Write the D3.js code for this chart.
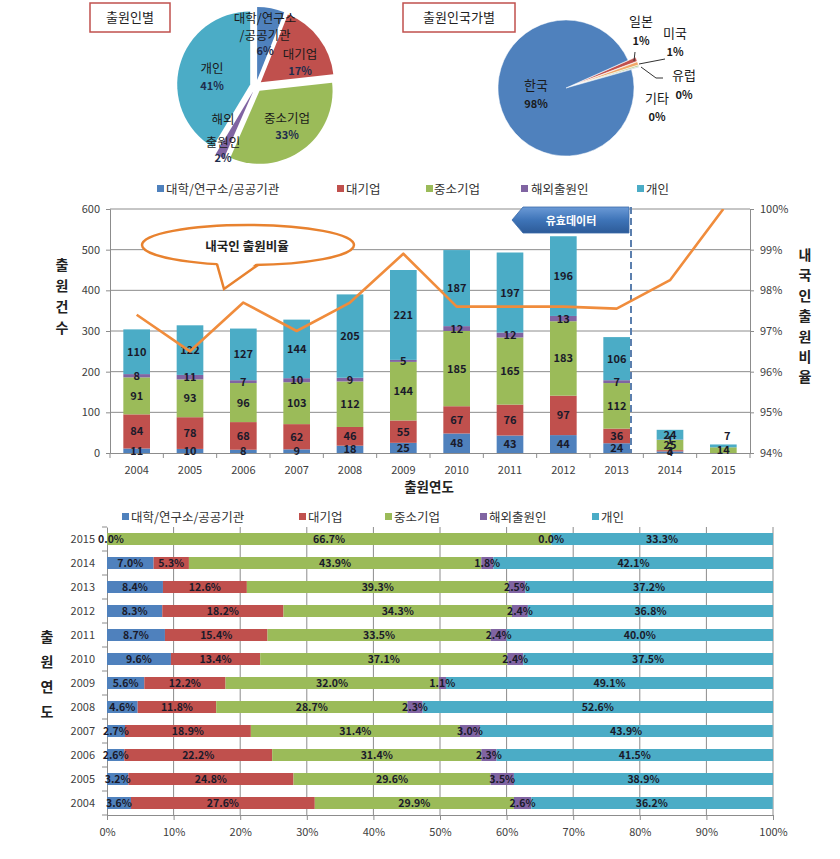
<!DOCTYPE html>
<html><head><meta charset="utf-8">
<script src="https://cdn.jsdelivr.net/npm/d3@7"></script>
<style>
body{margin:0;background:#fff}
svg{display:block}
text{font-family:"Noto Sans CJK KR","Noto Sans",sans-serif}
</style>
</head><body>
<svg id="c" width="840" height="859"></svg>
<script>
// ---------- DATA ----------
const years = [2004,2005,2006,2007,2008,2009,2010,2011,2012,2013,2014,2015];
const seriesNames = ["대학/연구소/공공기관","대기업","중소기업","해외출원인","개인"];
const seriesKeys = ["univ","large","sme","foreign","indiv"];
const colors = ["#4f81bd","#c0504d","#9bbb59","#8064a2","#4bacc6"];

// counts (middle chart)
const univ    = [11,10,8,9,18,25,48,43,44,24,4,0];
const large   = [84,78,68,62,46,55,67,76,97,36,3,0];
const sme     = [91,93,96,103,112,144,185,165,183,112,25,14];
const foreign = [8,11,7,10,9,5,12,12,13,7,1,0];
const indiv   = [110,122,127,144,205,221,187,197,196,106,24,7];
// domestic applicant ratio (%)
const domesticRatio = [97.4,96.5,97.7,97.0,97.7,98.9,97.6,97.6,97.6,97.55,98.25,100];

// shares (bottom chart, %)
const pctUniv    = [3.6,3.2,2.6,2.7,4.6,5.6,9.6,8.7,8.3,8.4,7.0,0.0];
const pctLarge   = [27.6,24.8,22.2,18.9,11.8,12.2,13.4,15.4,18.2,12.6,5.3,0.0];
const pctSme     = [29.9,29.6,31.4,31.4,28.7,32.0,37.1,33.5,34.3,39.3,43.9,66.7];
const pctForeign = [2.6,3.5,2.3,3.0,2.3,1.1,2.4,2.4,2.4,2.5,1.8,0.0];
const pctIndiv   = [36.2,38.9,41.5,43.9,52.6,49.1,37.5,40.0,36.8,37.2,42.1,33.3];

// pie 1 (by applicant)
const pie1Names  = ["대학/연구소/공공기관","대기업","중소기업","해외출원인","개인"];
const pie1Values = [6,17,33,2,41];
// pie 2 (by applicant country)
const pie2Names  = ["일본","미국","유럽","기타","한국"];
const pie2Values = [1.0,0.8,0.3,0.2,97.7];
const pie2Labels = ["1%","1%","0%","0%","98%"];
const pie2Colors = ["#c0504d","#f0a868","#9bbb59","#a9b7cf","#4f81bd"];

const countTicks = [0,100,200,300,400,500,600];
const ratioTicks = [94,95,96,97,98,99,100];
const pctTicks   = [0,10,20,30,40,50,60,70,80,90,100];

// ---------- SETUP ----------
const svg = d3.select("#c");
const tickColor = "#404040", gridColor = "#8c8c8c", labColor = "#1a1a2a";

// ---------- PIE 1 ----------
function titleBox(x,y,w,h,t){
  svg.append("rect").attr("x",x).attr("y",y).attr("width",w).attr("height",h)
    .attr("fill","#fff").attr("stroke","#c0504d").attr("stroke-width",1.5);
  svg.append("text").attr("x",x+w/2).attr("y",y+h/2).attr("dy","0.36em")
    .attr("text-anchor","middle").attr("font-size",13).attr("fill","#222").text(t);
}
titleBox(90,3,80,29,"출원인별");
titleBox(403,3,112,29,"출원인국가별");

{
  const cx=256, cy=86, r=73, off=6;
  const arcs = d3.pie().sort(null).value(d=>d)(pie1Values);
  const arc = d3.arc().innerRadius(0).outerRadius(r);
  const g = svg.append("g").attr("transform",`translate(${cx},${cy})`);
  arcs.forEach((a,i)=>{
    const m=(a.startAngle+a.endAngle)/2;
    g.append("path").attr("d",arc(a)).attr("fill",colors[i])
      .attr("transform",`translate(${off*Math.sin(m)},${-off*Math.cos(m)})`);
  });
  const lab = [
    {x:265,y:[18,35],p:51, n:["대학/연구소","/공공기관"]},
    {x:300,y:[54],p:71, n:["대기업"]},
    {x:287,y:[118],p:135, n:["중소기업"]},
    {x:223,y:[119,142],p:158, n:["해외","출원인"]},
    {x:212,y:[68],p:86, n:["개인"]}
  ];
  lab.forEach((L,i)=>{
    L.n.forEach((s,j)=>svg.append("text").attr("x",L.x).attr("y",L.y[j]).attr("dy","0.36em")
      .attr("text-anchor","middle").attr("font-size",12.5).attr("fill","#1a1a1a").text(s));
    svg.append("text").attr("x",L.x).attr("y",L.p).attr("dy","0.36em")
      .attr("text-anchor","middle").attr("font-size",11).attr("font-weight","bold")
      .attr("fill","#1f2d4d").text(pie1Values[i]+"%");
  });
}

// ---------- PIE 2 ----------
{
  const cx=566, cy=88, r=68, off=8;
  const arcs = d3.pie().sort(null).value(d=>d)
    .startAngle(66*Math.PI/180).endAngle(66*Math.PI/180+2*Math.PI)(pie2Values);
  const arc = d3.arc().innerRadius(0).outerRadius(r);
  const g = svg.append("g").attr("transform",`translate(${cx},${cy})`);
  arcs.forEach((a,i)=>{
    const m=(a.startAngle+a.endAngle)/2;
    const o = i<4 ? off : 0;
    g.append("path").attr("d",arc(a)).attr("fill",pie2Colors[i])
      .attr("stroke","#fff").attr("stroke-width",0.5)
      .attr("transform",`translate(${o*Math.sin(m)},${-o*Math.cos(m)})`);
  });
  const lines = [
    [[634,61],[635,52]],
    [[639,64],[665,59]],
    [[641,67],[656,78],[663,78]]
  ];
  lines.forEach(p=>svg.append("path").attr("d",d3.line()(p)).attr("fill","none")
    .attr("stroke","#333").attr("stroke-width",1));
  const lab = [
    {x:641,y:21,p:41},{x:675,y:33,p:52},{x:684,y:75,p:95},{x:657,y:98,p:117},{x:536,y:85,p:104}
  ];
  lab.forEach((L,i)=>{
    svg.append("text").attr("x",L.x).attr("y",L.y).attr("dy","0.36em")
      .attr("text-anchor","middle").attr("font-size",13).attr("fill","#1a1a1a").text(pie2Names[i]);
    svg.append("text").attr("x",L.x).attr("y",L.p).attr("dy","0.36em")
      .attr("text-anchor","middle").attr("font-size",11).attr("font-weight","bold")
      .attr("fill","#1a1a1a").text(pie2Labels[i]);
  });
}

// ---------- MIDDLE CHART ----------
const X0=110, X1=750, YT=209, YB=453;
const x = d3.scaleBand().domain(years).range([X0,X1]).paddingInner(0.5).paddingOuter(0.25);
const y = d3.scaleLinear().domain([0,600]).range([YB,YT]);
const yR = d3.scaleLinear().domain([94,100]).range([YB,YT]);

function legend(yPos, sq, tx){
  seriesNames.forEach((n,i)=>{
    svg.append("rect").attr("x",sq[i]).attr("y",yPos-4).attr("width",7).attr("height",7).attr("fill",colors[i]);
    svg.append("text").attr("x",tx[i]).attr("y",yPos).attr("dy","0.36em").attr("font-size",12.5)
      .attr("fill","#333").text(n);
  });
}
legend(189,[157,337,426,521,637],[166,346,434,531,646]);

svg.append("g").selectAll("line").data(countTicks.slice(1)).join("line")
  .attr("x1",X0).attr("x2",X1).attr("y1",d=>y(d)).attr("y2",d=>y(d))
  .attr("stroke",gridColor).attr("stroke-width",1);

const la = svg.append("g").attr("transform",`translate(${X0},0)`)
  .call(d3.axisLeft(y).tickValues(countTicks).tickSize(4).tickPadding(6));
la.select(".domain").attr("stroke",gridColor);
la.selectAll(".tick line").attr("stroke",gridColor);
la.selectAll("text").attr("font-size",11).attr("fill",tickColor).attr("font-family","Noto Sans,sans-serif");
const ra = svg.append("g").attr("transform",`translate(${X1},0)`)
  .call(d3.axisRight(yR).tickValues(ratioTicks).tickFormat(d=>d+"%").tickSize(4).tickPadding(6));
ra.select(".domain").attr("stroke",gridColor);
ra.selectAll(".tick line").attr("stroke",gridColor);
ra.selectAll("text").attr("font-size",11).attr("fill",tickColor).attr("font-family","Noto Sans,sans-serif");

const ba = svg.append("g").attr("transform",`translate(0,${YB})`)
  .call(d3.axisBottom(x).tickSize(0).tickPadding(13));
ba.select(".domain").attr("stroke",gridColor);
ba.selectAll("text").attr("font-size",11).attr("fill",tickColor).attr("font-family","Noto Sans,sans-serif");
const bounds = years.map(d=>x(d)-x.step()*x.paddingInner()/2).concat([X1]);
svg.append("g").selectAll("line").data(bounds).join("line")
  .attr("x1",d=>d).attr("x2",d=>d).attr("y1",YB).attr("y2",YB+5).attr("stroke",gridColor);

// speech bubble
{
  const ecx=248, ecy=245, rx=106, ry=20;
  const ey = xx => ecy + ry*Math.sqrt(1-Math.pow((xx-ecx)/rx,2));
  svg.append("ellipse").attr("cx",ecx).attr("cy",ecy).attr("rx",rx).attr("ry",ry)
    .attr("fill","#fff").attr("stroke","#e8822f").attr("stroke-width",2.5);
  const a=217, b=258, tip=[224,289];
  svg.append("path").attr("d",d3.line()([[a,ey(a)-3],tip,[b,ey(b)-3]])+"Z").attr("fill","#fff");
  svg.append("path").attr("d",d3.line()([[a,ey(a)],tip,[b,ey(b)]])).attr("fill","none")
    .attr("stroke","#e8822f").attr("stroke-width",2.5).attr("stroke-linejoin","miter");
  svg.append("text").attr("x",247).attr("y",246).attr("dy","0.36em").attr("text-anchor","middle")
    .attr("font-size",12.5).attr("font-weight","bold").attr("fill","#222").text("내국인 출원비율");
}

// stacked bars
const rows = years.map((yr,i)=>({year:yr,univ:univ[i],large:large[i],sme:sme[i],foreign:foreign[i],indiv:indiv[i]}));
const stacked = d3.stack().keys(seriesKeys)(rows);
const bg = svg.append("g");
stacked.forEach((s,si)=>{
  bg.selectAll(null).data(s).join("rect")
    .attr("x",d=>x(d.data.year)).attr("width",x.bandwidth())
    .attr("y",d=>y(d[1])).attr("height",d=>y(d[0])-y(d[1]))
    .attr("fill",colors[si]);
});
stacked.forEach((s,si)=>{
  bg.selectAll(null).data(s.filter(d=>d[1]-d[0]>0)).join("text")
    .attr("x",d=>x(d.data.year)+x.bandwidth()/2 + (d.data.year===2015 && si===4 ? 4 : 0))
    .attr("y",d=>y((d[0]+d[1])/2) - (d.data.year===2015 && si===4 ? 10 : 0)).attr("dy","0.36em")
    .attr("text-anchor","middle").attr("font-size",11).attr("font-weight","bold")
    .attr("fill",labColor).text(d=>d[1]-d[0]);
});

// dashed divider & callout
svg.append("line").attr("x1",631).attr("x2",631).attr("y1",YT-2).attr("y2",YB)
  .attr("stroke","#5b7fae").attr("stroke-width",2).attr("stroke-dasharray","7,4");
{
  const defs = svg.append("defs");
  const gr = defs.append("linearGradient").attr("id","cg").attr("x1",0).attr("y1",0).attr("x2",0).attr("y2",1);
  gr.append("stop").attr("offset","0%").attr("stop-color","#6b9ad6");
  gr.append("stop").attr("offset","50%").attr("stop-color","#3e74b8");
  gr.append("stop").attr("offset","100%").attr("stop-color","#2d5b98");
  svg.append("path").attr("d",d3.line()([[512,220],[523,207],[629,207],[629,233],[523,233]])+"Z")
    .attr("fill","url(#cg)").attr("stroke","#3a6aa8").attr("stroke-width",0.8);
  svg.append("text").attr("x",571).attr("y",221).attr("dy","0.36em").attr("text-anchor","middle")
    .attr("font-size",11).attr("font-weight","bold").attr("fill","#fff").text("유효데이터");
}

// ratio line
svg.append("defs").append("clipPath").attr("id","pc").append("rect")
  .attr("x",X0).attr("y",YT).attr("width",X1-X0).attr("height",YB-YT);
svg.append("path").attr("clip-path","url(#pc)")
  .attr("d",d3.line().x((d,i)=>x(years[i])+x.bandwidth()/2).y(d=>yR(d))(domesticRatio))
  .attr("fill","none").attr("stroke","#f08c3c").attr("stroke-width",2.6).attr("stroke-linejoin","round");

// axis titles
"출원건수".split("").forEach((c,i)=>svg.append("text").attr("x",62).attr("y",265+i*21).attr("dy","0.36em")
  .attr("text-anchor","middle").attr("font-size",14).attr("font-weight","bold").attr("fill","#222").text(c));
"내국인출원비율".split("").forEach((c,i)=>svg.append("text").attr("x",805).attr("y",255+i*20.4).attr("dy","0.36em")
  .attr("text-anchor","middle").attr("font-size",14).attr("font-weight","bold").attr("fill","#222").text(c));
svg.append("text").attr("x",429).attr("y",487).attr("dy","0.36em").attr("text-anchor","middle")
  .attr("font-size",13.5).attr("font-weight","bold").attr("fill","#222").text("출원연도");

// ---------- BOTTOM CHART ----------
const PX0=107, PX1=773, PY0=527, PY1=815;
const xP = d3.scaleLinear().domain([0,100]).range([PX0,PX1]);
const yP = d3.scaleBand().domain(years.slice().reverse()).range([PY0,PY1]).paddingInner(0.5).paddingOuter(0.25);

legend(517,[122,299,385,480,592],[131,308,394,489,601]);

svg.append("g").selectAll("line").data(pctTicks.slice(1)).join("line")
  .attr("x1",d=>xP(d)).attr("x2",d=>xP(d)).attr("y1",PY0).attr("y2",PY1).attr("stroke",gridColor);
const pxa = svg.append("g").attr("transform",`translate(0,${PY1})`)
  .call(d3.axisBottom(xP).tickValues(pctTicks).tickFormat(d=>d+"%").tickSize(5).tickPadding(8));
pxa.select(".domain").attr("stroke",gridColor);
pxa.selectAll(".tick line").attr("stroke",gridColor);
pxa.selectAll("text").attr("font-size",11).attr("fill",tickColor).attr("font-family","Noto Sans,sans-serif");
const pya = svg.append("g").attr("transform",`translate(${PX0},0)`)
  .call(d3.axisLeft(yP).tickSize(0).tickPadding(12));
pya.select(".domain").attr("stroke",gridColor);
pya.selectAll("text").attr("font-size",11).attr("fill",tickColor).attr("font-family","Noto Sans,sans-serif");
const pb = years.map(d=>yP(d)-yP.step()*yP.paddingInner()/2).concat([PY1]);
svg.append("g").selectAll("line").data(pb).join("line")
  .attr("x1",PX0-5).attr("x2",PX0).attr("y1",d=>d).attr("y2",d=>d).attr("stroke",gridColor);

const prow = years.map((yr,i)=>({year:yr,univ:pctUniv[i],large:pctLarge[i],sme:pctSme[i],foreign:pctForeign[i],indiv:pctIndiv[i]}));
const pst = d3.stack().keys(seriesKeys)(prow);
const pg = svg.append("g");
pst.forEach((s,si)=>{
  pg.selectAll(null).data(s).join("rect")
    .attr("y",d=>yP(d.data.year)).attr("height",yP.bandwidth())
    .attr("x",d=>xP(d[0])).attr("width",d=>Math.max(0,xP(Math.min(100,d[1]))-xP(d[0])))
    .attr("fill",colors[si]);
});
pg.selectAll(null).data(pst[4]).join("rect")
  .attr("y",d=>yP(d.data.year)).attr("height",yP.bandwidth())
  .attr("x",d=>xP(Math.min(100,d[1]))).attr("width",d=>Math.max(0,xP(100)-xP(Math.min(100,d[1]))))
  .attr("fill",colors[4]);
pst.forEach((s,si)=>{
  pg.selectAll(null).data(s.filter(d=>!(si===1 && d[1]-d[0]===0))).join("text")
    .attr("x",d=>xP((d[0]+d[1])/2)+(d[1]-d[0]===0 && si===0 ? 4 : 0))
    .attr("y",d=>yP(d.data.year)+yP.bandwidth()/2).attr("dy","0.36em")
    .attr("text-anchor","middle").attr("font-size",10.5).attr("font-weight","bold")
    .attr("fill",labColor)
    .text(d=>(d[1]-d[0]).toFixed(1)+"%");
});
"출원연도".split("").forEach((c,i)=>svg.append("text").attr("x",47).attr("y",637+i*25).attr("dy","0.36em")
  .attr("text-anchor","middle").attr("font-size",14).attr("font-weight","bold").attr("fill","#222").text(c));
</script>
</body></html>
